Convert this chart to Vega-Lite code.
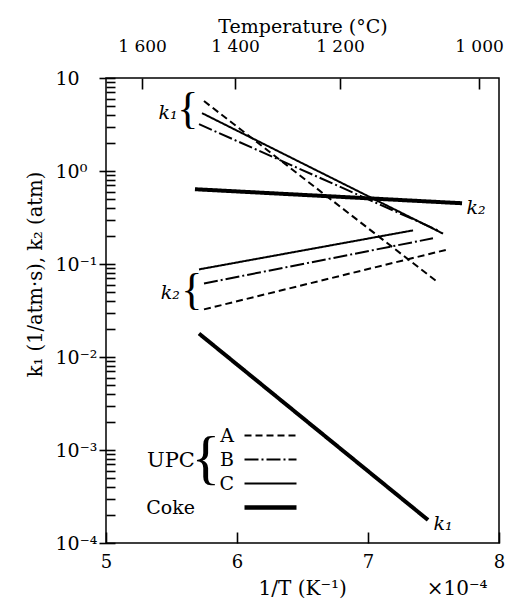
{
  "$schema": "https://vega.github.io/schema/vega-lite/v6.json",
  "autosize": "none",
  "width": 393,
  "height": 465,
  "padding": {"left": 106, "top": 78, "right": 9, "bottom": 69},
  "background": "white",
  "config": {
    "view": {"stroke": "black", "strokeWidth": 1.5, "fill": "transparent"},
    "axis": {"zindex": 2, "grid": false, "domain": false, "ticks": true, "tickColor": "#000000", "tickOpacity": 1, "labelColor": "black", "titleColor": "black", "labelFont": "DejaVu Serif", "titleFont": "DejaVu Serif", "titleFontWeight": "normal", "tickWidth": 1.6, "labelFontSize": 18, "titleFontSize": 18},
    "text": {"font": "DejaVu Serif", "color": "black"}
  },
  "resolve": {"axis": {"x": "independent"}},
  "layer": [
    {
      "data": {"values": [
        {"series": "A", "param": "k1", "x": 5.748, "y": 5.65},
        {"series": "A", "param": "k1", "x": 7.534, "y": 0.0634},
        {"series": "B", "param": "k1", "x": 5.71, "y": 3.19},
        {"series": "B", "param": "k1", "x": 7.55, "y": 0.225},
        {"series": "C", "param": "k1", "x": 5.733, "y": 4.19},
        {"series": "C", "param": "k1", "x": 7.573, "y": 0.212},
        {"series": "A", "param": "k2", "x": 5.748, "y": 0.0325},
        {"series": "A", "param": "k2", "x": 7.611, "y": 0.1436},
        {"series": "B", "param": "k2", "x": 5.748, "y": 0.0618},
        {"series": "B", "param": "k2", "x": 7.496, "y": 0.189},
        {"series": "C", "param": "k2", "x": 5.71, "y": 0.0875},
        {"series": "C", "param": "k2", "x": 7.344, "y": 0.23},
        {"series": "Coke", "param": "k1", "x": 5.71, "y": 0.01787},
        {"series": "Coke", "param": "k1", "x": 7.458, "y": 0.000177},
        {"series": "Coke", "param": "k2", "x": 5.679, "y": 0.637},
        {"series": "Coke", "param": "k2", "x": 7.718, "y": 0.45}
      ]},
      "mark": {"type": "line", "color": "black"},
      "encoding": {
        "x": {"field": "x", "type": "quantitative", "scale": {"domain": [5, 8], "nice": false, "zero": false},
          "axis": {"orient": "bottom", "zindex": 2, "ticks": true, "offset": -11, "values": [5, 6, 7, 8], "tickSize": 11, "labelPadding": 10, "labelFlush": false, "format": "d",
            "title": "1/T (K⁻¹)\u2003\u2003\u2003\u2003×10⁻⁴", "titleFontSize": 20, "titleAlign": "left", "titleX": 152, "titleY": 56, "titleBaseline": "middle"}},
        "y": {"field": "y", "type": "quantitative", "scale": {"type": "log", "domain": [0.0001, 10], "nice": false},
          "axis": {"offset": -9, "zindex": 2, "ticks": true,
            "values": [0.0001,0.0002,0.0003,0.0004,0.0005,0.0006,0.0007,0.0008,0.0009,0.001,0.002,0.003,0.004,0.005,0.006,0.007,0.008,0.009,0.01,0.02,0.03,0.04,0.05,0.06,0.07,0.08,0.09,0.1,0.2,0.3,0.4,0.5,0.6,0.7,0.8,0.9,1,2,3,4,5,6,7,8,9,10],
            "labelExpr": "datum.value == 10 ? '10' : datum.value == 1 ? '10⁰' : datum.value == 0.1 ? '10⁻¹' : datum.value == 0.01 ? '10⁻²' : datum.value == 0.001 ? '10⁻³' : datum.value == 0.0001 ? '10⁻⁴' : ''",
            "labelOverlap": false, "labelAlign": "left", "labelBaseline": "middle", "labelPadding": 44, "labelFontSize": 19,
            "tickSize": {"condition": {"test": "datum.value == 10 || datum.value == 1 || datum.value == 0.1 || datum.value == 0.01 || datum.value == 0.001 || datum.value == 0.0001", "value": 16}, "value": 9},
            "title": "k₁ (1/atm·s), k₂ (atm)", "titleFontSize": 19.5, "titleX": -80, "titleY": 196, "titleBaseline": "middle", "titleAlign": "center"}},
        "detail": {"field": "param"},
        "strokeDash": {"field": "series", "type": "nominal",
          "scale": {"domain": ["A", "B", "C", "Coke"], "range": [[7, 4], [14, 3, 2, 3], [1, 0], [1, 0]]},
          "legend": {"orient": "none", "legendX": 155, "legendY": 348, "title": null, "padding": 0,
            "symbolType": "M-2.6,0H2.6", "symbolSize": 400, "symbolStrokeColor": "black", "symbolStrokeWidth": 2,
            "labelAlign": "right", "labelOffset": -46, "labelFontSize": 19, "labelFont": "DejaVu Serif", "labelColor": "black", "rowPadding": 4,
            "encode": {
              "symbols": {"update": {"strokeWidth": {"signal": "datum.value === 'Coke' ? 4.5 : 2"}}},
              "labels": {"update": {"dx": {"signal": "datum.value === 'Coke' ? -39 : 0"}}}
            }}},
        "strokeWidth": {"condition": {"test": "datum.series === 'Coke'", "value": 4}, "value": 2}
      }
    },
    {
      "data": {"values": [
        {"x": 5.473, "y": 4.2, "t": "k₁"},
        {"x": 7.824, "y": 0.397, "t": "k₂"},
        {"x": 5.49, "y": 0.0482, "t": "k₂"},
        {"x": 7.573, "y": 0.00016, "t": "k₁"}
      ]},
      "mark": {"type": "text", "fontSize": 19, "fontStyle": "italic", "align": "center", "baseline": "middle"},
      "encoding": {
        "x": {"field": "x", "type": "quantitative",
          "axis": {"orient": "top", "zindex": 2, "ticks": true, "offset": -11, "values": [5.275, 5.985, 6.786, 7.847],
            "labelExpr": "datum.value < 5.5 ? '1 600' : datum.value < 6.3 ? '1 400' : datum.value < 7.3 ? '1 200' : '1 000'",
            "tickSize": 11, "labelPadding": 23, "labelFontSize": 17, "labelFlush": false,
            "title": "Temperature (°C)", "titleY": -53, "titleFontSize": 19}},
        "y": {"field": "y", "type": "quantitative"},
        "text": {"field": "t"}
      }
    },
    {
      "data": {"values": [
        {"x": 5.625, "y": 4.52, "t": "{"},
        {"x": 5.655, "y": 0.0507, "t": "{"}
      ]},
      "mark": {"type": "text", "fontSize": 44, "font": "Liberation Serif", "align": "center", "baseline": "middle"},
      "encoding": {
        "x": {"field": "x", "type": "quantitative", "axis": null},
        "y": {"field": "y", "type": "quantitative"},
        "text": {"field": "t"}
      }
    },
    {
      "data": {"values": [
        {"x": 5.762, "y": 0.000804, "t": "{"}
      ]},
      "mark": {"type": "text", "fontSize": 60, "font": "Liberation Serif", "align": "center", "baseline": "middle"},
      "encoding": {
        "x": {"field": "x", "type": "quantitative", "axis": null},
        "y": {"field": "y", "type": "quantitative"},
        "text": {"field": "t"}
      }
    },
    {
      "data": {"values": [
        {"x": 5.496, "y": 0.000766, "t": "UPC"}
      ]},
      "mark": {"type": "text", "fontSize": 21, "align": "center", "baseline": "middle"},
      "encoding": {
        "x": {"field": "x", "type": "quantitative", "axis": null},
        "y": {"field": "y", "type": "quantitative"},
        "text": {"field": "t"}
      }
    }
  ]
}
